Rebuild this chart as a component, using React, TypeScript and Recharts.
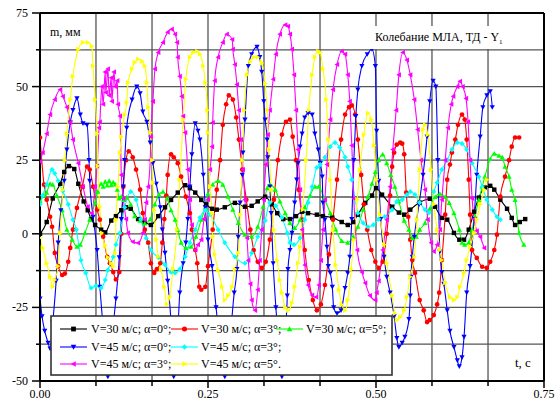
import React from 'react'
import { LineChart, Line, XAxis, YAxis, CartesianGrid, ReferenceLine } from 'recharts'

type Pt = [number, number]
type Shape = 'square' | 'circle' | 'up' | 'down' | 'diamond' | 'left' | 'right'

// t, c  ->  m, мм
const v30a0: Pt[] = [
  [0, 0], [0.010, 4], [0.019, 12], [0.030, 17], [0.036, 21], [0.043, 23], [0.051, 22], [0.057, 17],
  [0.065, 11], [0.071, 8], [0.076, 5], [0.082, 3], [0.091, 1.4], [0.097, 0.5], [0.106, 4.5], [0.113, 6],
  [0.121, 8], [0.128, 9], [0.135, 8.5], [0.146, 5], [0.156, 4], [0.165, 3], [0.176, 6], [0.186, 9],
  [0.195, 11.5], [0.205, 14], [0.216, 16.5], [0.223, 15.5], [0.231, 14], [0.240, 11.5], [0.247, 10],
  [0.256, 8.5], [0.263, 8.2], [0.275, 9], [0.290, 10.5], [0.305, 9.2], [0.315, 9.5], [0.324, 11],
  [0.335, 12.6], [0.345, 10], [0.353, 7], [0.362, 5], [0.372, 5], [0.381, 6], [0.390, 7.5], [0.399, 7],
  [0.412, 6.5], [0.421, 6], [0.435, 5.5], [0.449, 4], [0.458, 3], [0.466, 4], [0.473, 6.5], [0.484, 10.5],
  [0.494, 13], [0.500, 15.5], [0.509, 13.3], [0.524, 9.2], [0.534, 7.2], [0.542, 6.5], [0.551, 8.2],
  [0.565, 10.6], [0.580, 11.9], [0.588, 9.2], [0.598, 5.4], [0.606, 4.8], [0.616, 0.3], [0.624, -2],
  [0.631, -2], [0.638, 1.4], [0.646, 7.5], [0.653, 12.3], [0.662, 15.7], [0.670, 16.3], [0.676, 15],
  [0.685, 11.6], [0.695, 8.5], [0.702, 5.4], [0.707, 3], [0.714, 4], [0.722, 5],
]

const v30a3: Pt[] = [
  [0, 32.7], [0.006, 16.7], [0.010, 11.6], [0.015, 5.8], [0.018, 2.4], [0.022, -6.5], [0.027, -11],
  [0.033, -14], [0.037, -13.5], [0.042, -9.5], [0.045, -4.8], [0.049, 1.4], [0.055, 8.8], [0.063, 16],
  [0.070, 22.8], [0.074, 21.8], [0.079, 16], [0.085, 8.2], [0.089, 4.8], [0.094, -1], [0.100, -7.8],
  [0.104, -10], [0.109, -13], [0.113, -15.5], [0.118, -13], [0.121, 0], [0.124, 16], [0.128, 25],
  [0.132, 28], [0.138, 26], [0.143, 21.8], [0.149, 15], [0.153, 7], [0.156, 1.4], [0.161, -3],
  [0.165, -10], [0.170, -13.3], [0.174, -12], [0.179, -10], [0.182, -3], [0.185, 5], [0.188, 13],
  [0.190, 20], [0.195, 27], [0.199, 26], [0.205, 24], [0.210, 19.4], [0.217, 12.6], [0.223, 7],
  [0.226, 1.4], [0.231, -5.5], [0.234, -10], [0.237, -18], [0.240, -19], [0.246, -18], [0.250, -11],
  [0.257, 1.4], [0.263, 15], [0.268, 25], [0.272, 37], [0.277, 44], [0.281, 47], [0.287, 45.6],
  [0.292, 39.5], [0.296, 32], [0.301, 21.8], [0.307, 11.6], [0.313, 1.4], [0.318, -5.5], [0.324, -9.5],
  [0.330, -11.6], [0.336, -9.5], [0.342, -2], [0.348, 11.6], [0.354, 25], [0.360, 33.7], [0.366, 38],
  [0.372, 38.8], [0.376, 33], [0.381, 25], [0.385, 15], [0.390, 4.8], [0.394, -5.5], [0.400, -15.7],
  [0.406, -22.5], [0.412, -26], [0.418, -24], [0.424, -17.4], [0.430, -7], [0.436, 4.8], [0.442, 18.4],
  [0.448, 32], [0.454, 40.5], [0.460, 43], [0.464, 43.6], [0.469, 40.5], [0.473, 32], [0.478, 20],
  [0.482, 10], [0.487, 1.4], [0.493, -5.5], [0.499, -9.5], [0.504, -11.6], [0.510, -9.5], [0.516, 0],
  [0.521, 13], [0.524, 22.8], [0.527, 27.6], [0.531, 30.3], [0.536, 31], [0.539, 30.6], [0.542, 27],
  [0.545, 14], [0.548, 5.8], [0.551, -2], [0.554, -8.9], [0.558, -13.3], [0.565, -22.5], [0.571, -26],
  [0.576, -30], [0.580, -29.3], [0.586, -27.6], [0.591, -24], [0.594, -20], [0.598, -8.9], [0.603, 6.5],
  [0.606, 18.4], [0.610, 23.5], [0.613, 27.6], [0.618, 32], [0.622, 37], [0.628, 40.5], [0.632, 38.8],
  [0.635, 32], [0.638, 18.4], [0.640, 6.5], [0.643, -5.5], [0.650, -8.2], [0.658, -11.2], [0.665, -11.6],
  [0.670, -9.5], [0.676, -5.5], [0.680, -0.3], [0.685, 12.6], [0.692, 19.4], [0.698, 25], [0.702, 29.6],
  [0.707, 32.7], [0.713, 32.7],
]

const v30a5: Pt[] = [
  [0, 11], [0.006, 13], [0.010, 14], [0.015, 17], [0.019, 16.7], [0.025, 13], [0.033, 8], [0.040, 1.4],
  [0.048, -2], [0.055, -4.4], [0.060, -3.7], [0.067, 0.3], [0.074, 4.8], [0.082, 10.6], [0.086, 14.3],
  [0.091, 17], [0.094, 16], [0.097, 17.7], [0.100, 16.4], [0.103, 18], [0.106, 16.5], [0.109, 17.5],
  [0.112, 16.8], [0.115, 15], [0.118, 12], [0.121, 12.6], [0.125, 11.5], [0.129, 12.3], [0.135, 10],
  [0.141, 6], [0.149, 4.5], [0.156, 3.5], [0.164, 5], [0.171, 10], [0.177, 13.3], [0.183, 14.3],
  [0.189, 12], [0.195, 8], [0.201, 4.8], [0.205, 1.4], [0.210, -3], [0.217, -4.8], [0.225, -4.4],
  [0.232, -1], [0.240, 4.8], [0.246, 9], [0.250, 13.6], [0.257, 16.7], [0.265, 18], [0.272, 16.7],
  [0.280, 12.6], [0.287, 8.2], [0.295, 3.7], [0.305, -0.3], [0.315, -1], [0.324, 2.4], [0.332, 9.2],
  [0.338, 15.5], [0.342, 16.7], [0.350, 15], [0.357, 11], [0.365, 7], [0.372, 3.7], [0.379, 2],
  [0.387, 4.8], [0.394, 9], [0.402, 13], [0.409, 16], [0.415, 16], [0.423, 12], [0.432, 7], [0.440, 1.5],
  [0.449, -2.4], [0.458, -3], [0.466, -1], [0.473, 2.4], [0.481, 8.2], [0.488, 12.6], [0.494, 17],
  [0.499, 21], [0.504, 25], [0.510, 27], [0.516, 24], [0.522, 20], [0.528, 16], [0.534, 11], [0.542, 4.5],
  [0.549, 1.4], [0.554, -1.4], [0.560, -1], [0.565, 1.4], [0.573, 3.7], [0.580, 8.5], [0.588, 12.5],
  [0.595, 13.6], [0.603, 12.5], [0.609, 10.5], [0.616, 7], [0.624, 1.4], [0.628, -3], [0.632, -3.7],
  [0.638, -3], [0.643, 1.4], [0.647, 6], [0.653, 11.5], [0.658, 16], [0.662, 19.4], [0.670, 25.5],
  [0.676, 27.2], [0.683, 26.5], [0.688, 26], [0.692, 22.8], [0.698, 19.4], [0.702, 15], [0.707, 11.5],
  [0.713, 0.3], [0.720, -3.7],
]

const v45a0: Pt[] = [
  [0, -22], [0.003, -28], [0.007, -33], [0.012, -37], [0.015, -39], [0.019, -30], [0.024, -16],
  [0.027, -3], [0.031, 8], [0.036, 18], [0.040, 28.6], [0.045, 37.8], [0.049, 42], [0.055, 46],
  [0.060, 40.5], [0.064, 37.5], [0.070, 37], [0.073, 25], [0.074, 18], [0.079, 5.8], [0.085, -5.5],
  [0.089, -18], [0.094, -32], [0.098, -44], [0.101, -48.5], [0.107, -35], [0.113, -22], [0.118, -8],
  [0.121, 5], [0.124, 16], [0.126, 25], [0.129, 36], [0.137, 45.6], [0.144, 50], [0.149, 47.7],
  [0.153, 41.5], [0.159, 38], [0.164, 31], [0.168, 24], [0.173, 17], [0.179, 9], [0.182, 1.4],
  [0.186, -6.5], [0.190, -16], [0.195, -30], [0.199, -48.5], [0.204, -38], [0.208, -20], [0.213, -10],
  [0.217, -3], [0.220, 5], [0.223, 16], [0.226, 27], [0.231, 37.5], [0.235, 35], [0.238, 32],
  [0.243, 20], [0.246, 9], [0.250, -2], [0.256, -11], [0.262, -25], [0.268, -38], [0.275, -48.5],
  [0.283, -35], [0.289, -20], [0.293, -12], [0.295, -1], [0.298, 10.6], [0.301, 20], [0.302, 27.6],
  [0.305, 38.8], [0.310, 57], [0.315, 61], [0.323, 63.5], [0.327, 60], [0.330, 55], [0.333, 45],
  [0.335, 38.8], [0.338, 32], [0.339, 26], [0.342, 16], [0.344, 7], [0.347, -10], [0.351, -25],
  [0.356, -38], [0.360, -48.5], [0.365, -33], [0.368, -21], [0.369, -12], [0.372, -5.5], [0.375, 0.3],
  [0.379, 10.6], [0.382, 18.4], [0.384, 24], [0.387, 29.6], [0.390, 34], [0.394, 39.5], [0.399, 41],
  [0.405, 40.5], [0.409, 34], [0.414, 28.6], [0.417, 24], [0.420, 19.4], [0.421, 10.6], [0.424, 4.8],
  [0.427, -4.4], [0.429, -11], [0.432, -13.3], [0.435, -18], [0.437, -25], [0.442, -27], [0.448, -26],
  [0.454, -18.4], [0.458, -13.3], [0.461, -7.8], [0.464, 5], [0.467, 25], [0.470, 40], [0.473, 49],
  [0.479, 57], [0.487, 61], [0.494, 62.7], [0.499, 57], [0.501, 35], [0.504, 18], [0.507, 5],
  [0.512, -7.8], [0.516, -14.6], [0.521, -20], [0.527, -28], [0.531, -35.4], [0.534, -38.5],
  [0.539, -37], [0.543, -35], [0.549, -29], [0.551, -21], [0.552, -14.6], [0.554, -7.8], [0.557, -1],
  [0.564, 10], [0.570, 20], [0.576, 33], [0.580, 45], [0.585, 52], [0.589, 50], [0.592, 25],
  [0.595, -6], [0.598, -13], [0.601, -17], [0.606, -26], [0.610, -33], [0.616, -38.5], [0.621, -43],
  [0.624, -45], [0.628, -42], [0.631, -35], [0.635, -20], [0.640, -11], [0.646, 5], [0.650, 20],
  [0.655, 33], [0.659, 43], [0.665, 47], [0.670, 48.4], [0.673, 43],
]

const v45a3: Pt[] = [
  [0, 10], [0.004, 13], [0.010, 16.7], [0.018, 21.8], [0.022, 20.5], [0.027, 18], [0.034, 14.5],
  [0.042, 10], [0.049, 4.8], [0.054, 1.4], [0.061, -9], [0.068, -13.3], [0.076, -18.4], [0.083, -17.7],
  [0.091, -18.4], [0.097, -15.7], [0.101, -12.3], [0.109, -7.8], [0.113, -3.7], [0.119, 0.3],
  [0.126, 9], [0.135, 14.3], [0.143, 11.6], [0.150, 5], [0.158, -1.5], [0.165, -5.5], [0.176, -8],
  [0.186, -10.5], [0.195, -13], [0.201, -13.3], [0.208, -12], [0.216, -7.8], [0.223, -3], [0.231, 1.4],
  [0.238, 5.5], [0.246, 8], [0.253, 6.5], [0.265, 1.4], [0.275, -3], [0.290, -7.8], [0.305, -10],
  [0.315, -6.5], [0.324, -1], [0.335, 4.5], [0.342, 10.6], [0.351, 9.5], [0.360, 5.5], [0.368, 0.3],
  [0.372, -3], [0.378, -3.7], [0.387, -1.4], [0.394, 4.8], [0.399, 10.6], [0.405, 16], [0.412, 22.5],
  [0.417, 23.5], [0.424, 26], [0.432, 29.6], [0.439, 31], [0.446, 29.3], [0.454, 26], [0.458, 22.8],
  [0.464, 18.4], [0.469, 11.6], [0.473, 7], [0.481, 3.7], [0.488, 2.4], [0.496, 3], [0.504, 5],
  [0.513, 5.8], [0.524, 8.2], [0.531, 11], [0.539, 11.6], [0.546, 13.3], [0.551, 14.3], [0.558, 13.3],
  [0.565, 10.6], [0.573, 8.2], [0.579, 7.2], [0.586, 14.3], [0.591, 17.4], [0.598, 21.8], [0.606, 25],
  [0.613, 28.6], [0.621, 31], [0.628, 30.6], [0.635, 28.6], [0.643, 24], [0.653, 19.4], [0.658, 16],
  [0.665, 11.6], [0.673, 8.2], [0.680, 5.8], [0.685, 4.8],
]

const v45a3b: Pt[] = [
  [0, 24.5], [0.004, 27.6], [0.010, 34], [0.015, 40.5], [0.022, 45.6], [0.030, 49], [0.034, 46.7],
  [0.040, 43], [0.045, 37.8], [0.049, 32], [0.057, 24], [0.064, 16], [0.071, 9.2], [0.077, 7],
  [0.082, 16], [0.085, 23], [0.088, 36], [0.089, 38], [0.092, 50], [0.094, 44], [0.097, 55], [0.098, 48],
  [0.101, 56], [0.103, 47], [0.106, 53], [0.107, 45], [0.110, 55], [0.112, 50], [0.115, 52], [0.116, 44],
  [0.119, 40], [0.121, 20], [0.124, 12], [0.128, 5], [0.131, 0.3], [0.138, -2.7], [0.146, -3.1],
  [0.153, 0.3], [0.156, 4.8], [0.158, 10.6], [0.161, 16], [0.164, 25], [0.165, 33], [0.168, 45],
  [0.171, 56], [0.176, 61.6], [0.183, 65], [0.190, 68.5], [0.196, 69.5], [0.201, 67.8], [0.204, 65],
  [0.205, 60], [0.208, 53.5], [0.211, 46.7], [0.213, 40], [0.216, 34.4], [0.220, 21.8], [0.223, 11.6],
  [0.226, 3], [0.231, -5.5], [0.235, -3.7], [0.240, -2], [0.244, 5], [0.250, 11.6], [0.253, 21.8],
  [0.256, 29.6], [0.257, 37.8], [0.260, 52], [0.265, 60], [0.272, 65], [0.278, 67.8], [0.286, 66],
  [0.287, 62.7], [0.290, 57.5], [0.293, 50.7], [0.296, 42], [0.299, 32], [0.302, 21.8], [0.305, 11.6],
  [0.308, -1.4], [0.310, -9], [0.313, -17], [0.315, -22.5], [0.320, -26], [0.324, -19], [0.327, -9],
  [0.330, 1.4], [0.333, 11.6], [0.336, 23.5], [0.339, 33.7], [0.342, 42], [0.347, 52.5], [0.351, 61],
  [0.357, 67.8], [0.365, 71], [0.369, 70.5], [0.372, 67.8], [0.375, 62.7], [0.378, 54], [0.381, 42],
  [0.384, 28.6], [0.387, 15], [0.390, 1.4], [0.394, -10.6], [0.399, -17.4], [0.405, -20.8],
  [0.411, -21.5], [0.415, -17.4], [0.418, -9], [0.421, 1.4], [0.424, 11.6], [0.427, 23.5], [0.432, 38.8],
  [0.436, 49], [0.442, 57.5], [0.449, 62], [0.454, 61], [0.458, 54], [0.461, 45], [0.464, 30],
  [0.467, 12], [0.472, -5.5], [0.479, -13], [0.484, -16.7], [0.491, -21], [0.499, -22.5], [0.501, -20],
  [0.504, -16], [0.510, -5.5], [0.516, 4.8], [0.521, 16], [0.525, 28.6], [0.530, 42], [0.534, 54],
  [0.540, 61.6], [0.546, 59], [0.551, 54], [0.557, 45.6], [0.562, 35.4], [0.567, 25], [0.573, 15],
  [0.577, 4.8], [0.582, -3], [0.586, -6], [0.591, -3.7], [0.595, 1.4], [0.598, 11.6], [0.603, 25],
  [0.607, 36], [0.612, 44], [0.615, 46.7], [0.621, 50], [0.625, 51.8], [0.629, 50], [0.634, 46],
  [0.637, 38], [0.640, 25], [0.643, 12], [0.646, 5], [0.650, 1], [0.655, -1], [0.661, -4.8],
]

const v45a5: Pt[] = [
  [0, -1.4], [0.004, -4.8], [0.010, -10], [0.015, -14.6], [0.019, -18], [0.022, -15.7], [0.027, -11],
  [0.030, 0.3], [0.034, 15], [0.037, 25], [0.040, 34], [0.045, 45.6], [0.049, 53.5], [0.057, 62.7],
  [0.064, 65], [0.071, 65], [0.077, 63.7], [0.079, 57], [0.082, 45.6], [0.085, 34], [0.086, 23],
  [0.089, 9.2], [0.092, 0.3], [0.097, -4], [0.101, -8], [0.106, -10], [0.109, -11], [0.112, -6.5],
  [0.113, 4.8], [0.116, 16], [0.119, 27.6], [0.121, 33], [0.126, 40.5], [0.129, 44.6], [0.131, 51.4],
  [0.137, 56], [0.141, 58.2], [0.146, 59.3], [0.152, 58.6], [0.156, 57], [0.159, 51.4], [0.161, 43],
  [0.164, 34.4], [0.167, 25], [0.168, 17.4], [0.170, 8], [0.173, -2], [0.176, -7.8], [0.180, -12],
  [0.185, -18], [0.189, -24], [0.193, -21.5], [0.198, -12], [0.204, 1.4], [0.208, 18.4], [0.213, 38.8],
  [0.217, 52.5], [0.223, 60], [0.228, 61.6], [0.234, 62], [0.238, 61], [0.243, 57], [0.246, 51.4],
  [0.249, 42], [0.250, 34.4], [0.253, 16], [0.256, 7], [0.257, -1], [0.260, -7], [0.265, -12.3],
  [0.271, -18], [0.275, -22.5], [0.280, -21], [0.286, -18], [0.290, -12], [0.295, -6.5], [0.298, 6.5],
  [0.301, 25], [0.304, 42], [0.308, 54], [0.313, 58.5], [0.318, 60], [0.324, 60], [0.330, 58],
  [0.335, 51], [0.338, 42], [0.341, 28.6], [0.344, 15], [0.348, 1.4], [0.353, -9], [0.357, -15.7],
  [0.360, -20], [0.365, -25], [0.369, -26], [0.375, -23.5], [0.379, -18], [0.384, -10], [0.387, -4.4],
  [0.391, 8.2], [0.396, 25], [0.400, 42], [0.405, 54], [0.409, 60], [0.414, 62], [0.417, 61.6],
  [0.421, 56], [0.426, 45.6], [0.429, 32], [0.432, 18.4], [0.436, 1.4], [0.440, -10.6], [0.445, -19],
  [0.449, -24], [0.454, -26], [0.458, -22.5], [0.463, -12], [0.467, -2], [0.472, 11.6], [0.476, 21.8],
  [0.482, 33.7], [0.488, 41], [0.493, 38.8], [0.497, 30], [0.501, 18.4], [0.506, 6.5], [0.512, -3.7],
  [0.516, -10], [0.524, -21], [0.528, -27], [0.531, -29.3], [0.536, -28.3], [0.542, -26], [0.546, -21.5],
  [0.551, -14.6], [0.557, -7.8], [0.561, 4.8], [0.565, 21.8], [0.570, 35.4], [0.573, 37], [0.577, 33.7],
  [0.582, 21.8], [0.586, 10], [0.591, 1.4], [0.595, -5.5], [0.598, -8.9], [0.603, -16.7], [0.610, -21.5],
  [0.616, -22.5], [0.621, -21.5], [0.625, -18], [0.631, -13.3], [0.635, -8.9], [0.640, -4.4],
  [0.646, 0.3], [0.650, 4.8], [0.655, 10], [0.661, 15], [0.665, 18.4],
]

const X_TICKS = [0, 0.0833, 0.1667, 0.25, 0.3333, 0.4167, 0.5, 0.5833, 0.6667, 0.75]
const X_LABELS = [0, 0.25, 0.5, 0.75]
const Y_TICKS = [-50, -37.5, -25, -12.5, 0, 12.5, 25, 37.5, 50, 62.5, 75]
const Y_LABELS = [-50, -25, 0, 25, 50, 75]

const SERIES: { key: string; name: string; color: string; shape: Shape; data: Pt[] }[] = [
  { key: 'v30a0', name: 'V=30 м/с; α=0°;', color: '#000000', shape: 'square', data: v30a0 },
  { key: 'v30a3', name: 'V=30 м/с; α=3°;', color: '#ff0000', shape: 'circle', data: v30a3 },
  { key: 'v30a5', name: 'V=30 м/с; α=5°;', color: '#00ff00', shape: 'up', data: v30a5 },
  { key: 'v45a0', name: 'V=45 м/с; α=0°;', color: '#0000ff', shape: 'down', data: v45a0 },
  { key: 'v45a3', name: 'V=45 м/с; α=3°;', color: '#00ffff', shape: 'diamond', data: v45a3 },
  { key: 'v45a3b', name: 'V=45 м/с; α=3°;', color: '#ff00ff', shape: 'left', data: v45a3b },
  { key: 'v45a5', name: 'V=45 м/с; α=5°.', color: '#ffff00', shape: 'right', data: v45a5 },
]

// legend rows hold indexes into SERIES
const LEGEND_ROWS = [[0, 1, 2], [3, 4], [5, 6]]

const FONT = "'Liberation Serif', 'Times New Roman', serif"
const W = 558
const H = 400

function Marker({ shape, cx, cy, color, s = 2.6 }: { shape: Shape; cx: number; cy: number; color: string; s?: number }) {
  switch (shape) {
    case 'square':
      return <rect x={cx - s * 0.85} y={cy - s * 0.85} width={s * 1.7} height={s * 1.7} fill={color} />
    case 'circle':
      return <circle cx={cx} cy={cy} r={s * 0.9} fill={color} />
    case 'up':
      return <polygon points={`${cx},${cy - s} ${cx + s},${cy + s * 0.8} ${cx - s},${cy + s * 0.8}`} fill={color} />
    case 'down':
      return <polygon points={`${cx - s},${cy - s * 0.8} ${cx + s},${cy - s * 0.8} ${cx},${cy + s}`} fill={color} />
    case 'diamond':
      return <polygon points={`${cx},${cy - s} ${cx + s},${cy} ${cx},${cy + s} ${cx - s},${cy}`} fill={color} />
    case 'left':
      return <polygon points={`${cx - s},${cy} ${cx + s * 0.8},${cy - s} ${cx + s * 0.8},${cy + s}`} fill={color} />
    default:
      return <polygon points={`${cx + s},${cy} ${cx - s * 0.8},${cy - s} ${cx - s * 0.8},${cy + s}`} fill={color} />
  }
}

const isLabel = (v: number, list: number[]) => list.some((l) => Math.abs(l - v) < 1e-6)

function XTick(props: any) {
  const { x, y, payload } = props
  const major = isLabel(payload.value, X_LABELS)
  return (
    <g>
      <line x1={x} y1={y} x2={x} y2={y + (major ? 7 : 5)} stroke="#000" strokeWidth={1.5} />
      {major && (
        <text x={x} y={y + 17} textAnchor="middle" fontSize={12} fontFamily={FONT} fill="#000">
          {payload.value.toFixed(2)}
        </text>
      )}
    </g>
  )
}

function YTick(props: any) {
  const { x, y, payload } = props
  const major = isLabel(payload.value, Y_LABELS)
  return (
    <g>
      <line x1={x - (major ? 8 : 4)} y1={y} x2={x} y2={y} stroke="#000" strokeWidth={1.5} />
      {major && (
        <text x={x - 12} y={y + 4} textAnchor="end" fontSize={12} fontFamily={FONT} fill="#000">
          {payload.value}
        </text>
      )}
    </g>
  )
}

const toRows = (pts: Pt[]) => pts.map(([t, v]) => ({ t, v }))

export default function App() {
  const legendCols = [
    { x: 60, tx: 91 },
    { x: 171, tx: 201 },
    { x: 276, tx: 306 },
  ]
  const rowY = [329, 347, 364]

  return (
    <div style={{ position: 'absolute', left: 0, top: 0, width: W, height: H, background: '#fff' }}>
      <LineChart width={W} height={H} margin={{ top: 13, right: 14, bottom: 0, left: 0 }}>
        <CartesianGrid stroke="#555" strokeWidth={1.3} />
        <XAxis
          type="number"
          dataKey="t"
          domain={[0, 0.75]}
          ticks={X_TICKS}
          allowDataOverflow
          height={19}
          tickSize={0}
          tickMargin={0}
          tickLine={false}
          tick={<XTick />}
          axisLine={{ stroke: '#000', strokeWidth: 2 }}
          interval={0}
        />
        <YAxis
          type="number"
          domain={[-50, 75]}
          ticks={Y_TICKS}
          allowDataOverflow
          width={40}
          tickSize={0}
          tickMargin={0}
          tickLine={false}
          tick={<YTick />}
          axisLine={{ stroke: '#000', strokeWidth: 2 }}
          interval={0}
        />
        <ReferenceLine y={75} stroke="#000" strokeWidth={2} />
        <ReferenceLine x={0.75} stroke="#000" strokeWidth={2} />
        {SERIES.map((s) => (
          <Line
            key={s.key}
            data={toRows(s.data)}
            dataKey="v"
            type="monotone"
            stroke={s.color}
            strokeWidth={1.1}
            isAnimationActive={false}
            activeDot={false}
            dot={(p: any) =>
              p.cx == null || p.cy == null ? (
                <g key={`${s.key}-${p.index}`} />
              ) : (
                <Marker key={`${s.key}-${p.index}`} shape={s.shape} cx={p.cx} cy={p.cy} color={s.color} />
              )
            }
          />
        ))}
      </LineChart>

      <svg width={W} height={H} style={{ position: 'absolute', left: 0, top: 0, pointerEvents: 'none' }}>
        <text x={50} y={36} fontSize={12} fontFamily={FONT} fill="#000">m, мм</text>
        <text x={515} y={367} fontSize={13} fontFamily={FONT} fill="#000">t, c</text>

        <rect x={366} y={26} width={176} height={23} fill="#fff" />
        <text x={375} y={41} fontSize={12} fontFamily={FONT} fill="#000">
          Колебание МЛА, ТД - Y<tspan fontSize={7} dy={3}>1</tspan>
        </text>

        <rect x={51} y={316} width={341} height={59} fill="#fff" stroke="#333" strokeWidth={1.6} />
        {LEGEND_ROWS.map((row, ri) =>
          row.map((si, ci) => {
            const s = SERIES[si]
            const col = legendCols[ci]
            const y = rowY[ri]
            return (
              <g key={`lg-${si}`}>
                <line x1={col.x} y1={y} x2={col.x + 27} y2={y} stroke={s.color} strokeWidth={1.1} />
                <Marker shape={s.shape} cx={col.x + 13.5} cy={y} color={s.color} s={2.8} />
                <text x={col.tx} y={y + 4} fontSize={12} fontFamily={FONT} fill="#000">
                  {s.name}
                </text>
              </g>
            )
          })
        )}
      </svg>
    </div>
  )
}
